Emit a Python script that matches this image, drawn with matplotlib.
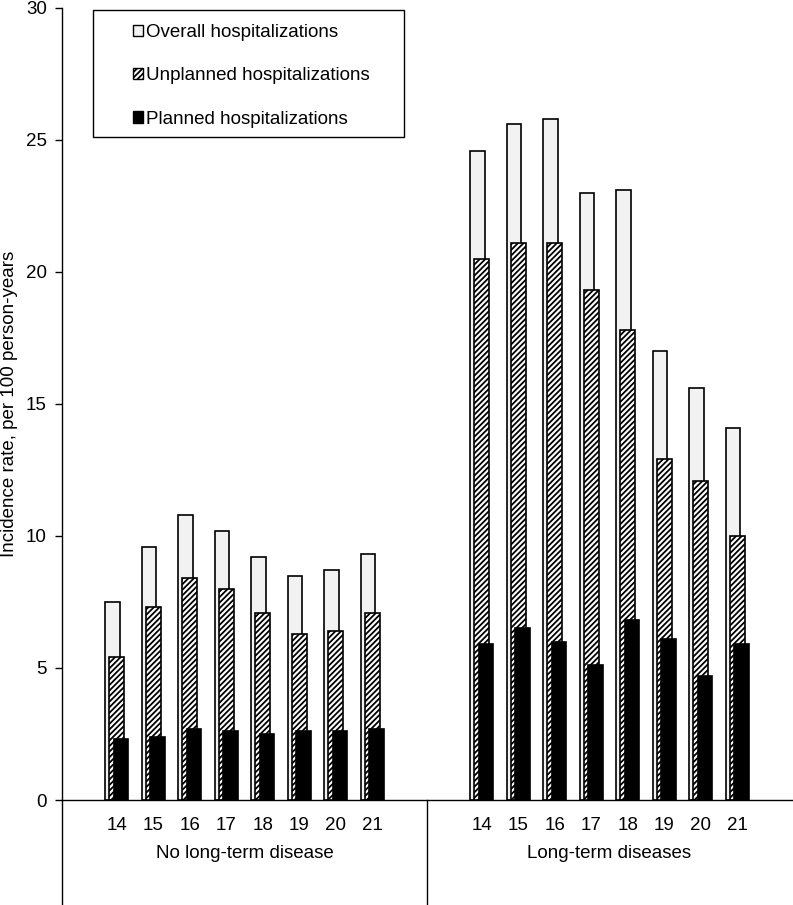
import matplotlib
matplotlib.use('Agg')
import matplotlib.pyplot as plt
from matplotlib.patches import Patch, Rectangle
from matplotlib.transforms import blended_transform_factory

plt.rcParams['font.family'] = ['Liberation Sans', 'DejaVu Sans']
plt.rcParams['hatch.linewidth'] = 1.3

# data
ages = ['14', '15', '16', '17', '18', '19', '20', '21']
groups = ['No long-term disease', 'Long-term diseases']

overall_no = [7.5, 9.6, 10.8, 10.2, 9.2, 8.5, 8.7, 9.3]
unplanned_no = [5.4, 7.3, 8.4, 8.0, 7.1, 6.3, 6.4, 7.1]
planned_no = [2.3, 2.4, 2.7, 2.6, 2.5, 2.6, 2.6, 2.7]

overall_lt = [24.6, 25.6, 25.8, 23.0, 23.1, 17.0, 15.6, 14.1]
unplanned_lt = [20.5, 21.1, 21.1, 19.3, 17.8, 12.9, 12.1, 10.0]
planned_lt = [5.9, 6.5, 6.0, 5.1, 6.8, 6.1, 4.7, 5.9]

fs = 13.5
W, H = 793, 905
fig = plt.figure(figsize=(W / 100, H / 100), dpi=100)
ax = fig.add_axes([62 / W, (H - 800) / H, (792 - 62) / W, (800 - 8) / H])

# each group takes 10 slots: a blank one, the 8 ages, a blank one
slots = 10
width = 0.4
shift = 0.12
hatch = '//////'
xs_all = []
for g, (ov, un, pl) in enumerate([(overall_no, unplanned_no, planned_no),
                                   (overall_lt, unplanned_lt, planned_lt)]):
    xs = [g * slots + 1.5 + i for i in range(len(ages))]
    xs_all += xs
    ax.bar([x - shift for x in xs], ov, width, color='#f2f2f2',
           edgecolor='black', linewidth=1.2, zorder=2)
    ax.bar(xs, un, width, color='white', edgecolor='black', hatch=hatch,
           linewidth=1.2, zorder=3)
    ax.bar([x + shift for x in xs], pl, width, color='black',
           edgecolor='black', linewidth=1.2, zorder=4)

ax.set_xlim(0, 2 * slots)
ax.set_ylim(0, 30)
ax.set_yticks(range(0, 31, 5))
ax.tick_params(axis='y', direction='out', length=5, width=1, labelsize=fs, pad=6)
ax.set_xticks(xs_all)
ax.set_xticklabels(ages * 2, fontsize=fs)
ax.tick_params(axis='x', length=0, pad=12)

for side in ['top', 'right']:
    ax.spines[side].set_visible(False)
ax.spines['left'].set_linewidth(1)
ax.spines['bottom'].set_linewidth(1)

# category separator lines below the axis
drop = 105 / 792
tr = blended_transform_factory(ax.transData, ax.transAxes)
for xv in [0, slots]:
    ax.plot([xv, xv], [0, -drop], transform=tr, color='black',
            linewidth=1, clip_on=False)
for g, name in enumerate(groups):
    ax.text(g * slots + slots / 2, -53 / 792, name, transform=tr,
            ha='center', va='center', fontsize=fs)

ax.set_ylabel('Incidence rate, per 100 person-years', fontsize=fs)
ax.yaxis.set_label_coords(-0.06, 0.5)

# legend with its own frame
fig.patches.append(Rectangle((93 / W, 1 - 137 / H), (404 - 93) / W, (137 - 10) / H,
                             transform=fig.transFigure, facecolor='white',
                             edgecolor='black', linewidth=1, zorder=5))
handles = [Patch(facecolor='#f2f2f2', edgecolor='black', label='Overall hospitalizations'),
           Patch(facecolor='white', edgecolor='black', hatch=hatch,
                 label='Unplanned hospitalizations'),
           Patch(facecolor='black', edgecolor='black', label='Planned hospitalizations')]
leg = fig.legend(handles=handles, loc='upper left',
                 bbox_to_anchor=(118 / W, 1 - 9 / H), frameon=False,
                 fontsize=fs, handlelength=0.55, handleheight=0.55,
                 handletextpad=0.15, labelspacing=1.4, borderpad=0.3)
leg.set_zorder(6)

fig.savefig('out.png', dpi=100)
